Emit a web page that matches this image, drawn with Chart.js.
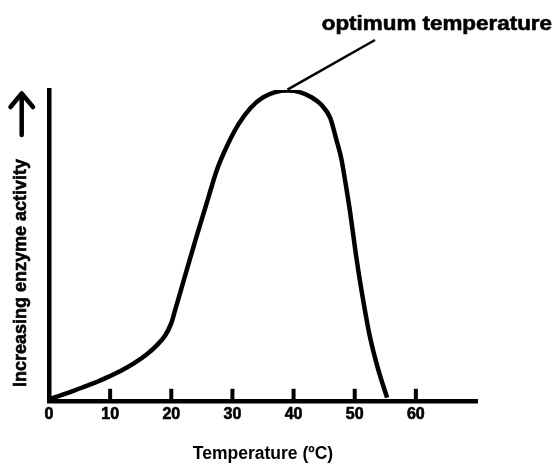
<!DOCTYPE html>
<html>
<head>
<meta charset="utf-8">
<script src="https://cdn.jsdelivr.net/npm/chart.js@4.4.0/dist/chart.umd.min.js"></script>
<style>
html,body{margin:0;padding:0;background:#fff;}
#wrap{width:554px;height:465px;}
</style>
</head>
<body>
<div id="wrap"><canvas id="c" width="554" height="465"></canvas></div>
<script>
// ---- data ----
const temperature = [0, 2, 4, 6, 8, 10, 12, 14, 16, 17.5, 19, 20, 20.6, 22, 24, 26, 27.5, 29, 31, 33, 35, 37, 39, 41, 43, 44.5, 46, 47, 47.8, 48.5, 49.3, 50.2, 51.2, 52.5, 53.9, 55.3];
const activity    = [0.5, 1.8, 3.2, 4.7, 6.2, 8, 9.9, 12.2, 15, 17.6, 21, 25, 29, 38.5, 52, 65, 74.5, 81.5, 89, 94.3, 97.6, 99.3, 99.8, 99.3, 97.6, 95.3, 91, 84, 78, 70, 60, 47, 34.5, 20.5, 9.7, 1];
const xTickValues = [0, 10, 20, 30, 40, 50, 60];
const xMin = 0, xMax = 70, yMin = 0, yMax = 100;
const xTitle = 'Temperature (ºC)';
const yTitle = 'Increasing enzyme activity';
const annotationText = 'optimum temperature';
const optimumIndex = 22;

const FONT = "'Liberation Sans', Arial, Helvetica, sans-serif";

function boldText(ctx, text, x, y) {
  ctx.fillText(text, x, y);
  ctx.lineWidth = 0.6;
  ctx.strokeText(text, x, y);
}

const extras = {
  id: 'extras',
  afterDraw(chart) {
    const ctx = chart.ctx;
    const xs = chart.scales.x, ys = chart.scales.y;
    const area = chart.chartArea;
    ctx.save();
    ctx.strokeStyle = '#000';
    ctx.fillStyle = '#000';
    // inward tick marks
    ctx.lineWidth = 4;
    ctx.lineCap = 'butt';
    xTickValues.forEach(v => {
      if (v === xMin) return;
      const px = xs.getPixelForValue(v);
      ctx.beginPath();
      ctx.moveTo(px, area.bottom);
      ctx.lineTo(px, area.bottom - 12);
      ctx.stroke();
    });
    // y-axis title
    ctx.save();
    ctx.translate(21.5, 273);
    ctx.rotate(-Math.PI / 2);
    ctx.font = "bold 18px " + FONT;
    ctx.textAlign = 'center';
    ctx.textBaseline = 'middle';
    boldText(ctx, yTitle, 0, 0);
    ctx.restore();
    // arrow
    ctx.lineWidth = 4.5;
    ctx.lineCap = 'round';
    ctx.lineJoin = 'round';
    ctx.beginPath();
    ctx.moveTo(21.7, 135);
    ctx.lineTo(21.7, 94);
    ctx.stroke();
    ctx.beginPath();
    ctx.moveTo(10.5, 107);
    ctx.lineTo(21.7, 93.5);
    ctx.lineTo(33, 107);
    ctx.stroke();
    // annotation line from the optimum point
    const px = xs.getPixelForValue(temperature[optimumIndex]);
    const py = ys.getPixelForValue(activity[optimumIndex]);
    ctx.lineWidth = 2.5;
    ctx.lineCap = 'butt';
    ctx.beginPath();
    ctx.moveTo(px, py - 1);
    ctx.lineTo(375, 40);
    ctx.stroke();
    // annotation text
    ctx.save();
    ctx.translate(552, 30);
    ctx.scale(1.12, 1);
    ctx.font = "bold 20px " + FONT;
    ctx.textAlign = 'right';
    ctx.textBaseline = 'alphabetic';
    boldText(ctx, annotationText, 0, 0);
    ctx.restore();
    ctx.restore();
  }
};

new Chart(document.getElementById('c'), {
  type: 'line',
  data: {
    datasets: [{
      data: temperature.map((t, i) => ({x: t, y: activity[i]})),
      borderColor: '#000',
      borderWidth: 4.5,
      pointRadius: 0,
      fill: false,
      cubicInterpolationMode: 'monotone'
    }]
  },
  options: {
    responsive: false,
    animation: false,
    layout: {padding: {left: 49, right: 77, top: 90, bottom: 0}},
    plugins: {legend: {display: false}, tooltip: {enabled: false}, title: {display: false}},
    scales: {
      x: {
        type: 'linear',
        min: xMin, max: xMax,
        afterBuildTicks: s => { s.ticks = xTickValues.map(v => ({value: v})); },
        grid: {display: false, drawTicks: false},
        border: {display: true, color: '#000', width: 4.5},
        ticks: {color: '#000', padding: 4, maxRotation: 0, autoSkip: false,
                textStrokeColor: '#000', textStrokeWidth: 0.6,
                font: {family: FONT, size: 16, weight: 'bold'}},
        title: {display: true, text: xTitle, color: '#000',
                font: {family: FONT, size: 17.5, weight: 'bold'},
                padding: {top: 16, bottom: 0}}
      },
      y: {
        type: 'linear',
        min: yMin, max: yMax,
        grid: {display: false, drawTicks: false},
        border: {display: true, color: '#000', width: 4.5},
        ticks: {display: false},
        title: {display: false}
      }
    }
  },
  plugins: [extras]
});
</script>
</body>
</html>
